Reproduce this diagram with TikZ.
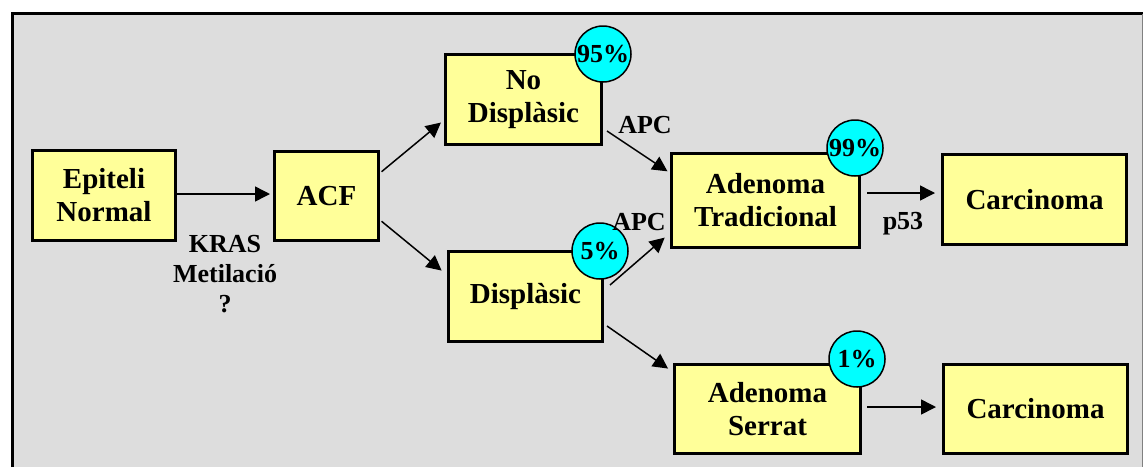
\documentclass[tikz,border=0pt]{standalone}
\usepackage{fontspec}
\setmainfont{Liberation Serif}
\usetikzlibrary{arrows.meta}

\definecolor{fonsgris}{HTML}{DDDDDD}
\definecolor{groc}{HTML}{FFFF99}
\definecolor{cian}{HTML}{00FFFF}

\begin{document}
\begin{tikzpicture}[
x=0.5pt, y=-0.5pt,
every node/.style={
    font=\bfseries\fontsize{14.5}{16.5}\selectfont,
    align=center
},
caixa/.style={draw, line width=1.5pt, fill=groc, inner sep=0pt},
cercle/.style={circle, draw, line width=0.75pt, fill=cian,
    minimum size=28pt, inner sep=0pt,
    font=\bfseries\fontsize{13}{13}\selectfont},
etiq/.style={font=\bfseries\fontsize{13}{15}\selectfont},
fletxa/.style={-{Triangle[length=7.5pt,width=7.5pt]}, line width=0.75pt}
]

\useasboundingbox (0,0) rectangle (1144,467);
\fill[fonsgris] (12,13) rectangle (1143,467);
\draw[line width=1.5pt] (12.5,467) -- (12.5,13.5) -- (1143,13.5);
\draw[gray, line width=0.5pt] (1142.5,14) -- (1142.5,467);

\node[caixa, minimum width=71.5pt, minimum height=45pt] (epiteli) at (104,195.5) {Epiteli\\Normal};
\node[caixa, minimum width=52pt, minimum height=44.5pt] (acf) at (326.5,196) {ACF};
\node[caixa, minimum width=78pt, minimum height=45pt] (nodispl) at (523.5,99.5) {No\\Displàsic};
\node[caixa, minimum width=77pt, minimum height=45pt] (displ) at (525.5,296.5) {Displàsic};
\node[caixa, minimum width=94pt, minimum height=47pt] (adtrad) at (765.5,200.5) {Adenoma\\Tradicional};
\node[caixa, minimum width=92pt, minimum height=45pt] (carc1) at (1034.5,199.5) {Carcinoma};
\node[caixa, minimum width=93pt, minimum height=44.5pt] (adserr) at (767.5,409) {Adenoma\\Serrat};
\node[caixa, minimum width=92pt, minimum height=44.5pt] (carc2) at (1035.5,409) {Carcinoma};

\draw[fletxa, shorten >=1.5pt] ([yshift=0.75pt]epiteli.east) -- ([yshift=1pt]acf.west);
\draw[fletxa, shorten <=1pt, shorten >=2pt] ([yshift=11.5pt]acf.east) -- ([yshift=-10.25pt]nodispl.west);
\draw[fletxa, shorten <=1pt, shorten >=3.5pt] ([yshift=-12pt]acf.east) -- ([yshift=10.75pt]displ.west);
\draw[fletxa, shorten >=1.5pt] ([xshift=2pt,yshift=-15.75pt]nodispl.east) -- ([yshift=13.75pt]adtrad.west);
\draw[fletxa, shorten >=3.5pt] ([xshift=3pt,yshift=5.75pt]displ.east) -- ([yshift=-16.25pt]adtrad.west);
\draw[fletxa, shorten >=3pt] ([xshift=1.5pt,yshift=-14.75pt]displ.east) -- ([yshift=18.5pt]adserr.west);
\draw[fletxa, shorten >=3pt] ([xshift=3pt,yshift=3.75pt]adtrad.east) -- ([yshift=3.25pt]carc1.west);
\draw[fletxa, shorten >=3pt] ([xshift=2.5pt,yshift=1pt]adserr.east) -- ([yshift=1pt]carc2.west);

\node[cercle] (p95) at (603,54) {95\%};
\node[cercle] (p5) at (600,251) {5\%};
\node[cercle] (p99) at (855,148) {99\%};
\node[cercle] (p1) at (857,359) {1\%};

\node[etiq] (kras) at (225,274) {KRAS\\Metilació\\?};
\node[etiq, anchor=base] (apc1) at (645,133) {APC};
\node[etiq, anchor=base] (apc2) at (639,230) {APC};
\node[etiq, anchor=base] (p53) at (903,229) {p53};
\end{tikzpicture}
\end{document}
